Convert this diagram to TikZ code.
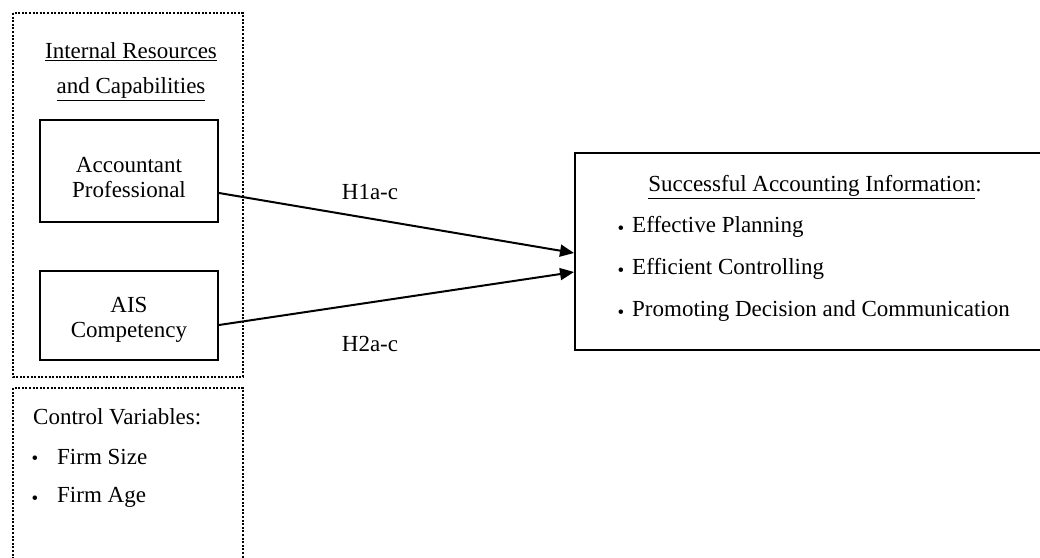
\documentclass[tikz,border=0pt]{standalone}
\usepackage{fontspec}
\setmainfont{Liberation Serif}
\usetikzlibrary{arrows.meta,calc}
\begin{document}
\begin{tikzpicture}[x=1pt,y=-1pt,
  txt/.style={inner sep=0pt,font=\fontsize{23}{25}\selectfont},
  bul/.style={inner sep=0pt,font=\fontsize{19}{19}\selectfont},
  varbox/.style={draw,line width=2pt,inner sep=0pt},
  dotbox/.style={line width=2pt,dash pattern=on 2pt off 1.6pt},
  conn/.style={line width=2pt,-{Triangle[length=14pt,width=12pt]}},
  solidline/.style={line width=2pt}]
\useasboundingbox (0,0) rectangle (1040,557);
\clip (0,0) rectangle (1040,557);
% dotted groups
\draw[dotbox] (13,13) rectangle (243,377);
\draw[dotbox] (13,570) -- (13,388) -- (243,388) -- (243,570);
% left texts
\node[txt] (irc1) at (131,52) {\underline{Internal Resources}};
\node[txt] (irc2) at (131,89) {\underline{and Capabilities}};
\node[varbox,minimum width=178pt,minimum height=102pt] (acc) at (129,171) {};
\node[txt,align=center] (acct) at (129,177.5) {Accountant\\Professional};
\node[varbox,minimum width=178pt,minimum height=89pt] (ais) at (129,315.5) {};
\node[txt,align=center] (aist) at (129,320) {AIS\\Competency};
% control variables
\node[txt,anchor=west] (cv) at (33,417) {Control Variables:};
\node[bul] (b1) at (35,460) {•};
\node[txt,anchor=west] (fs) at (57,457) {Firm Size};
\node[bul] (b2) at (35,500) {•};
\node[txt,anchor=west] (fa) at (57,497) {Firm Age};
% right box
\node[draw,solidline,minimum width=475pt,minimum height=197pt,inner sep=0pt] (sai) at (812.5,251.5) {};
\node[txt] (saih) at (815,187) {\underline{Successful Accounting Information}:};
\node[bul] (b3) at (621,230) {•};
\node[txt,anchor=west] (i1) at (632,227) {Effective Planning};
\node[bul] (b4) at (621,272) {•};
\node[txt,anchor=west] (i2) at (632,269) {Efficient Controlling};
\node[bul] (b5) at (621,314) {•};
\node[txt,anchor=west] (i3) at (632,311) {Promoting Decision and Communication};
% connectors
\coordinate (s1) at ($(acc.east)+(0,22)$);
\coordinate (s2) at ($(ais.east)+(0,9.5)$);
\coordinate (t1) at ($(sai.west)+(0,1.5)$);
\coordinate (t2) at ($(sai.west)+(0,20.5)$);
\draw[conn] (s1) -- (t1);
\draw[conn] (s2) -- (t2);
\node[txt] (h1) at (370,192) {H1a-c};
\node[txt] (h2) at (370,344) {H2a-c};
\end{tikzpicture}
\end{document}
